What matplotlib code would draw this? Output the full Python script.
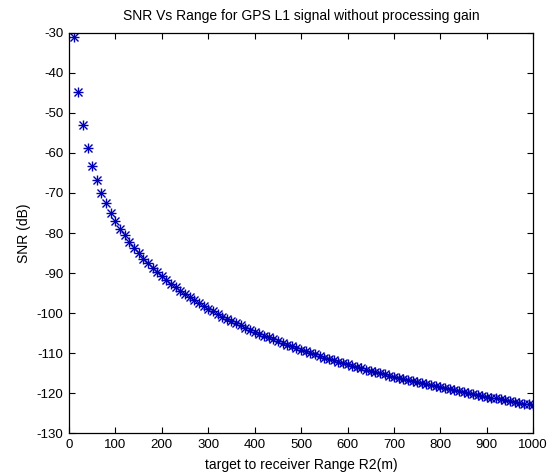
import numpy as np
import matplotlib
matplotlib.use("Agg")
import matplotlib.pyplot as plt

# range in metres (one sample every 10 m)
range_m = np.arange(10, 1001, 10)

# SNR (dB)
snr_db = [
    -31.0, -44.8, -52.9, -58.7, -63.2, -66.8, -69.9, -72.5, -74.9, -77.0,
    -78.9, -80.6, -82.2, -83.7, -85.1, -86.4, -87.6, -88.7, -89.8, -90.8,
    -91.8, -92.8, -93.6, -94.5, -95.3, -96.1, -96.8, -97.6, -98.3, -98.9,
    -99.6, -100.2, -100.9, -101.4, -102.0, -102.6, -103.1, -103.7, -104.2, -104.7,
    -105.2, -105.7, -106.1, -106.6, -107.0, -107.5, -107.9, -108.3, -108.7, -109.2,
    -109.5, -109.9, -110.3, -110.7, -111.1, -111.4, -111.8, -112.1, -112.5, -112.8,
    -113.1, -113.5, -113.8, -114.1, -114.4, -114.7, -115.0, -115.3, -115.6, -115.9,
    -116.2, -116.4, -116.7, -117.0, -117.3, -117.5, -117.8, -118.0, -118.3, -118.5,
    -118.8, -119.0, -119.3, -119.5, -119.8, -120.0, -120.2, -120.4, -120.7, -120.9,
    -121.1, -121.3, -121.5, -121.8, -122.0, -122.2, -122.4, -122.6, -122.8, -123.0,
]

x_ticks = list(range(0, 1001, 100))
y_ticks = list(range(-130, -29, 10))

plt.rcParams['font.family'] = ['Liberation Sans', 'DejaVu Sans']
plt.rcParams['font.size'] = 9.5
plt.rcParams['axes.unicode_minus'] = False

fig = plt.figure(figsize=(5.52, 4.76), dpi=100)
ax = fig.add_axes([0.125, 0.090, 0.841, 0.841])

# matlab style asterisk = plus + cross
ax.plot(range_m, snr_db, linestyle='none', marker='+', markersize=7,
        color='#0000b4', markeredgewidth=1.0)
ax.plot(range_m, snr_db, linestyle='none', marker='x', markersize=5.5,
        color='#0000b4', markeredgewidth=1.0)

ax.set_xlim(0, 1000)
ax.set_ylim(-130, -30)
ax.set_xticks(x_ticks)
ax.set_yticks(y_ticks)
ax.tick_params(direction='in', top=True, right=True, length=4, width=0.8, pad=4)
for s in ax.spines.values():
    s.set_linewidth(0.9)

ax.set_title('SNR Vs Range for GPS L1 signal without processing gain', fontsize=10, pad=9)
ax.set_xlabel('target to receiver Range R2(m)', fontsize=10, labelpad=5)
ax.set_ylabel('SNR (dB)', fontsize=10, labelpad=4)

fig.savefig('out.png', dpi=100)
